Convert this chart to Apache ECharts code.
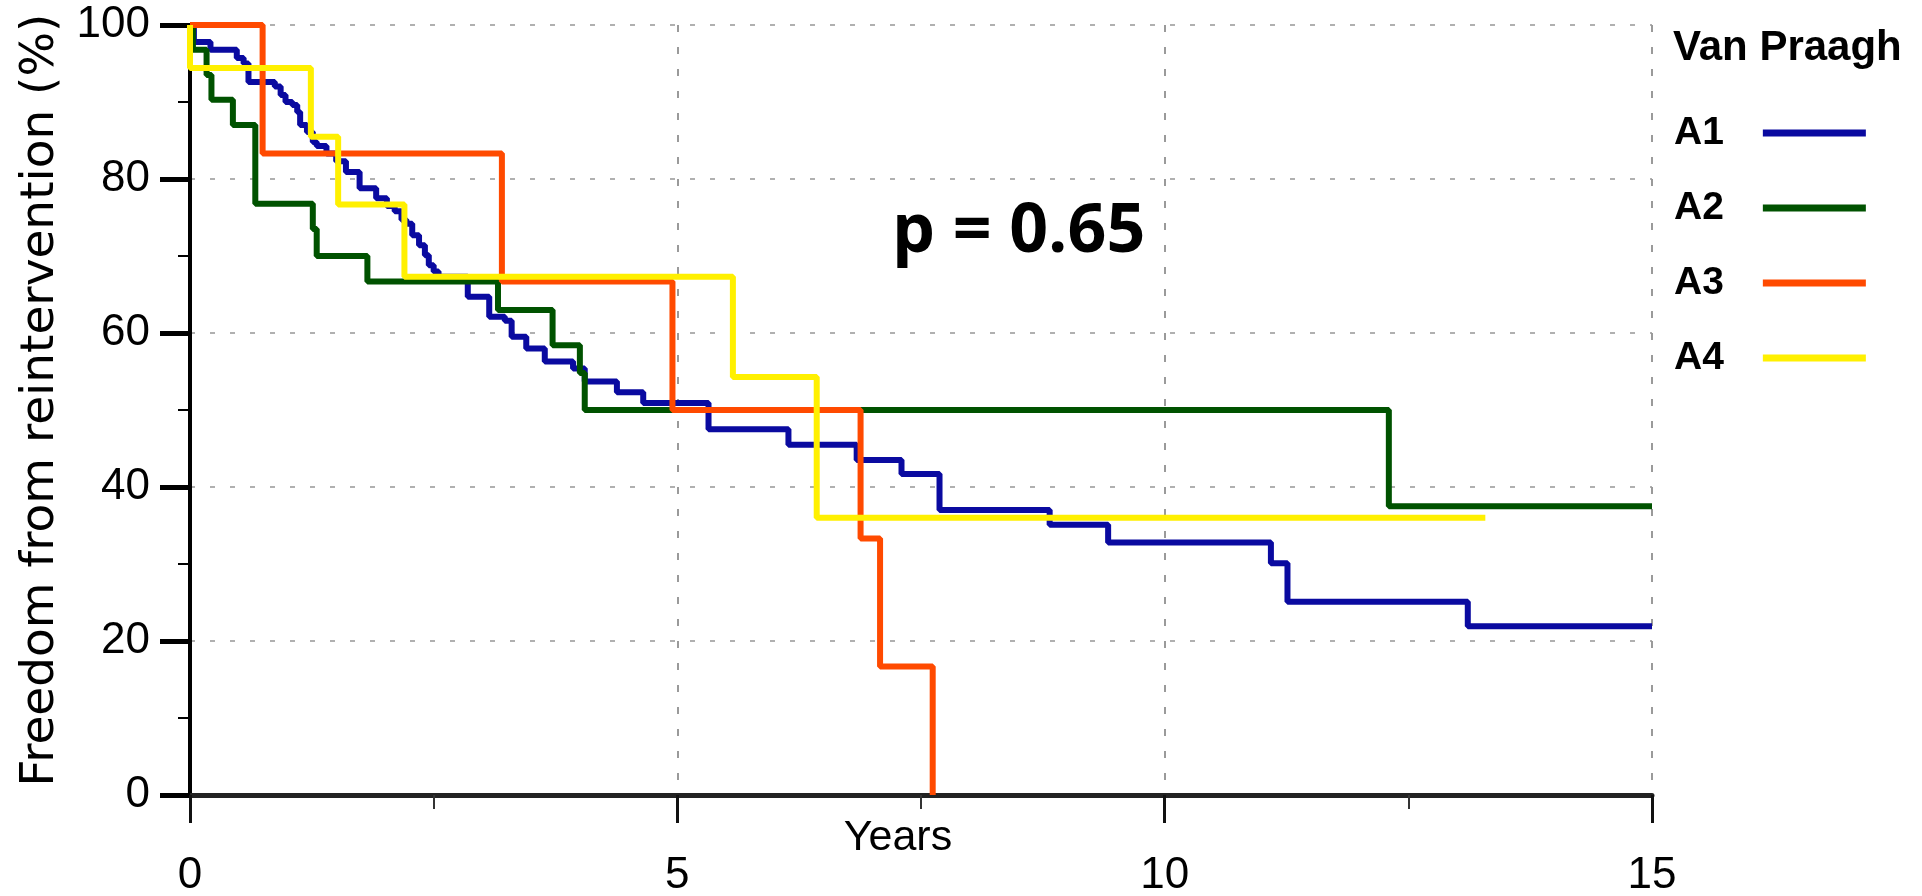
<!DOCTYPE html>
<html>
<head>
<meta charset="utf-8">
<script src="https://cdn.jsdelivr.net/npm/echarts@6/dist/echarts.min.js"></script>
<style>
  html, body { margin: 0; padding: 0; background: #ffffff; }
  #chart { width: 1922px; height: 896px; }
</style>
</head>
<body>
<div id="chart"></div>
<script>
// ---- Data ----
const seriesNames = ['A1', 'A2', 'A3', 'A4'];
const seriesColors = ['#0a0aa0', '#005200', '#ff4a00', '#fff000'];

// step times (years) and freedom from reintervention (%) after each step
const a1Years  = [0, 0.04, 0.21, 0.48, 0.55, 0.6, 0.87, 0.93, 0.98, 1.05, 1.1, 1.13, 1.2, 1.26, 1.3, 1.4, 1.5, 1.6, 1.74, 1.91, 2.02, 2.1, 2.17, 2.22, 2.28, 2.35, 2.41, 2.45, 2.5, 2.55, 2.85, 3.07, 3.23, 3.3, 3.45, 3.64, 3.93, 4.05, 4.38, 4.65, 5.32, 6.14, 6.84, 7.3, 7.69, 8.82, 9.42, 11.09, 11.26, 13.11, 15];
const a1Values = [100, 97.8, 96.8, 95.7, 95.0, 92.6, 92.0, 90.9, 90.0, 89.6, 88.7, 87.0, 86.1, 84.8, 84.3, 83.3, 82.3, 80.9, 78.8, 77.5, 76.5, 75.8, 74.7, 74.2, 72.7, 71.4, 70.1, 68.8, 68.0, 67.3, 64.7, 62.1, 61.6, 59.5, 58.0, 56.3, 55.4, 53.7, 52.3, 50.9, 47.5, 45.5, 43.5, 41.7, 37.0, 35.1, 32.8, 30.1, 25.1, 21.9, 21.9];

const a2Years  = [0, 0.03, 0.17, 0.22, 0.44, 0.67, 1.26, 1.3, 1.82, 3.16, 3.72, 4.0, 4.05, 12.3, 15];
const a2Values = [100, 96.8, 93.5, 90.3, 87.0, 76.8, 73.5, 70.0, 66.7, 63.0, 58.4, 54.8, 50.0, 37.5, 37.5];

const a3Years  = [0, 0.745, 3.2, 4.95, 6.88, 7.08, 7.62];
const a3Values = [100, 83.3, 66.7, 50.0, 33.3, 16.7, 0];

const a4Years  = [0, 0, 1.24, 1.52, 2.2, 5.57, 6.43, 13.29];
const a4Values = [100, 94.4, 85.5, 76.7, 67.3, 54.3, 36.0, 36.0];

const xTickLabels = ['0', '5', '10', '15'];
const yTickLabels = ['0', '20', '40', '60', '80', '100'];
const xAxisTitle = 'Years';
const yAxisTitle = 'Freedom from reintervention (%)';
const legendTitle = 'Van Praagh';
const pValueText = 'p = 0.65';

// ---- Build series ----
const allYears = [a1Years, a2Years, a3Years, a4Years];
const allValues = [a1Values, a2Values, a3Values, a4Values];

const series = seriesNames.map((name, i) => ({
  name: name,
  type: 'line',
  step: 'end',
  showSymbol: false,
  symbol: 'none',
  color: seriesColors[i],
  lineStyle: { width: 6, color: seriesColors[i] },
  z: 2 + i,
  data: allYears[i].map((t, k) => [t, allValues[i][k]])
}));

const sansFont = "'Liberation Sans', Arial, sans-serif";

const chart = echarts.init(document.getElementById('chart'), null, { renderer: 'canvas' });
chart.setOption({
  animation: false,
  backgroundColor: '#ffffff',
  title: [
    {
      text: legendTitle, left: 1673, top: 27, padding: 0,
      textStyle: { fontFamily: sansFont, fontWeight: 'bold', fontSize: 42, color: '#000' }
    },
    {
      text: pValueText, left: 892, top: 199, padding: 0,
      textStyle: { fontFamily: "'Open Sans', sans-serif", fontWeight: 'bold', fontSize: 68, color: '#000' }
    }
  ],
  legend: {
    orient: 'vertical',
    left: 1674,
    top: 105,
    padding: 0,
    itemWidth: 103,
    itemHeight: 7,
    itemGap: 19,
    align: 'right',
    icon: 'rect',
    selectedMode: false,
    textStyle: {
      fontFamily: sansFont, fontWeight: 'bold', fontSize: 39, color: '#000',
      lineHeight: 40, padding: [0, 34, 16, 0]
    },
    data: seriesNames
  },
  grid: { left: 190, right: 270, top: 25, bottom: 101, outerBoundsMode: 'none', containLabel: false },
  xAxis: {
    type: 'value',
    min: 0, max: 15, interval: 5,
    name: xAxisTitle,
    nameLocation: 'middle',
    nameGap: 22,
    nameMoveOverlap: false,
    nameTextStyle: { fontFamily: sansFont, fontSize: 43, color: '#000', padding: [0, 46, 0, 0] },
    axisLine: { show: true, onZero: false, lineStyle: { color: '#222', width: 5 } },
    axisTick: { show: true, length: 28, lineStyle: { color: '#111', width: 3 } },
    minorTick: { show: true, splitNumber: 2, length: 14, lineStyle: { color: '#333', width: 2 } },
    axisLabel: {
      margin: 59, fontFamily: sansFont, fontSize: 44, color: '#000',
      formatter: (v) => xTickLabels[Math.round(v / 5)]
    },
    splitLine: { show: true, lineStyle: { color: '#9a9a9a', width: 2, type: [7, 15] } }
  },
  yAxis: {
    type: 'value',
    min: 0, max: 100, interval: 20,
    name: yAxisTitle,
    nameLocation: 'middle',
    nameGap: 126,
    nameRotate: 90,
    nameMoveOverlap: false,
    nameTextStyle: { fontFamily: "'DejaVu Sans', sans-serif", fontSize: 47, color: '#000', padding: [0, 0, 0, 20] },
    axisLine: { show: true, lineStyle: { color: '#000', width: 4 } },
    axisTick: { show: true, length: 30, lineStyle: { color: '#000', width: 5 } },
    minorTick: { show: true, splitNumber: 2, length: 12, lineStyle: { color: '#000', width: 2 } },
    axisLabel: {
      margin: 40, fontFamily: sansFont, fontSize: 44, color: '#000',
      padding: [8, 0, 0, 0],
      formatter: (v) => yTickLabels[Math.round(v / 20)]
    },
    splitLine: { show: true, lineStyle: { color: '#b0b0b0', width: 2, type: [5, 15] } }
  },
  series: series
});
</script>
</body>
</html>
